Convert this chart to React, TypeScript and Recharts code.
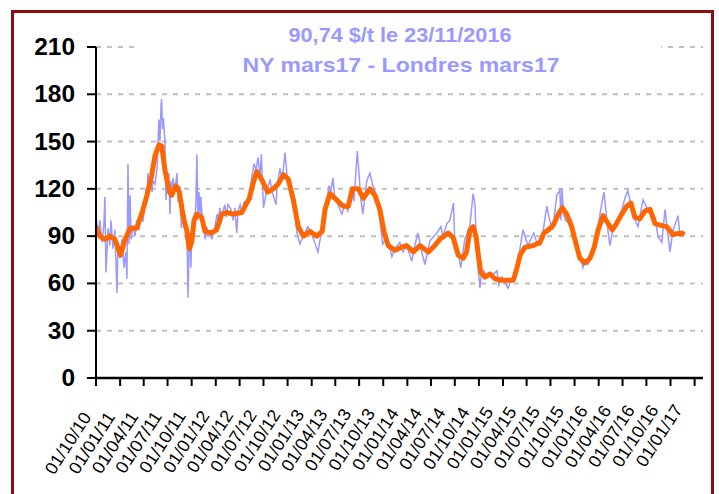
import { ComposedChart, Line, XAxis, YAxis, CartesianGrid } from 'recharts';

const titleLines = ['90,74 $/t le 23/11/2016', 'NY mars17 - Londres mars17'];

const tickLabels = [
  '01/10/10', '01/01/11', '01/04/11', '01/07/11', '01/10/11', '01/01/12', '01/04/12',
  '01/07/12', '01/10/12', '01/01/13', '01/04/13', '01/07/13', '01/10/13', '01/01/14',
  '01/04/14', '01/07/14', '01/10/14', '01/01/15', '01/04/15', '01/07/15', '01/10/15',
  '01/01/16', '01/04/16', '01/07/16', '01/10/16', '01/01/17',
];
const yTicks = [0, 30, 60, 90, 120, 150, 180, 210];
const xDomain = ['2010-10-01', '2017-02-02'];

// daily spread (light blue)
const blueDates = [
  '2010-10-01', '2010-10-09', '2010-10-16', '2010-10-24', '2010-10-31', '2010-11-04', '2010-11-08', '2010-11-16',
  '2010-11-23', '2010-11-27', '2010-12-05', '2010-12-12', '2010-12-20', '2010-12-24', '2010-12-31', '2011-01-08',
  '2011-01-16', '2011-01-23', '2011-01-27', '2011-01-31', '2011-02-04', '2011-02-08', '2011-02-12', '2011-02-19',
  '2011-02-27', '2011-03-06', '2011-03-14', '2011-03-22', '2011-03-29', '2011-04-06', '2011-04-10', '2011-04-14',
  '2011-04-17', '2011-04-21', '2011-04-29', '2011-05-03', '2011-05-06', '2011-05-14', '2011-05-22', '2011-05-25',
  '2011-05-29', '2011-06-02', '2011-06-06', '2011-06-08', '2011-06-12', '2011-06-15', '2011-06-21', '2011-06-25',
  '2011-06-29', '2011-07-03', '2011-07-06', '2011-07-10', '2011-07-14', '2011-07-18', '2011-07-22', '2011-07-29',
  '2011-08-06', '2011-08-10', '2011-08-17', '2011-08-23', '2011-08-29', '2011-09-02', '2011-09-06', '2011-09-09',
  '2011-09-13', '2011-09-17', '2011-09-21', '2011-09-25', '2011-09-28', '2011-10-02', '2011-10-06', '2011-10-13',
  '2011-10-17', '2011-10-21', '2011-10-25', '2011-10-29', '2011-11-02', '2011-11-05', '2011-11-13', '2011-11-17',
  '2011-11-21', '2011-11-28', '2011-12-02', '2011-12-10', '2011-12-17', '2011-12-25', '2011-12-29', '2012-01-06',
  '2012-01-09', '2012-01-17', '2012-01-21', '2012-01-28', '2012-02-05', '2012-02-09', '2012-02-17', '2012-02-28',
  '2012-03-07', '2012-03-14', '2012-03-21', '2012-03-26', '2012-04-03', '2012-04-10', '2012-04-18', '2012-04-25',
  '2012-05-03', '2012-05-07', '2012-05-18', '2012-05-26', '2012-06-03', '2012-06-10', '2012-06-18', '2012-06-23',
  '2012-07-01', '2012-07-11', '2012-07-26', '2012-08-03', '2012-08-18', '2012-08-22', '2012-09-02', '2012-09-10',
  '2012-09-21', '2012-09-29', '2012-10-10', '2012-10-18', '2012-10-29', '2012-11-06', '2012-11-17', '2012-11-25',
  '2012-12-06', '2012-12-17', '2012-12-31', '2013-01-10', '2013-01-25', '2013-02-02', '2013-02-13', '2013-02-28',
  '2013-03-08', '2013-03-15', '2013-03-23', '2013-03-30', '2013-04-11', '2013-04-26', '2013-05-08', '2013-05-19',
  '2013-06-03', '2013-06-11', '2013-06-24', '2013-07-08', '2013-07-15', '2013-07-30', '2013-08-11', '2013-08-22',
  '2013-09-03', '2013-09-14', '2013-09-29', '2013-10-15', '2013-11-03', '2013-11-14', '2013-11-29', '2013-12-03',
  '2013-12-15', '2013-12-30', '2014-01-18', '2014-01-29', '2014-02-10', '2014-02-25', '2014-03-09', '2014-03-28',
  '2014-04-24', '2014-05-09', '2014-05-17', '2014-06-01', '2014-06-12', '2014-06-26', '2014-07-01', '2014-07-17',
  '2014-07-24', '2014-08-08', '2014-08-27', '2014-09-09', '2014-09-16', '2014-09-23', '2014-10-05', '2014-10-11',
  '2014-10-20', '2014-11-01', '2014-11-19', '2014-12-09', '2014-12-16', '2014-12-28', '2015-01-20', '2015-01-31',
  '2015-02-15', '2015-02-26', '2015-03-18', '2015-04-06', '2015-04-17', '2015-04-28', '2015-05-10', '2015-05-22',
  '2015-06-02', '2015-06-17', '2015-06-28', '2015-07-10', '2015-07-25', '2015-08-06', '2015-08-10', '2015-08-14',
  '2015-08-20', '2015-08-27', '2015-09-13', '2015-09-24', '2015-10-10', '2015-10-21', '2015-11-02', '2015-11-09',
  '2015-11-21', '2015-12-06', '2015-12-25', '2016-01-10', '2016-01-21', '2016-02-05', '2016-02-13', '2016-02-24',
  '2016-03-11', '2016-03-22', '2016-04-10', '2016-04-21', '2016-04-29', '2016-05-11', '2016-05-30', '2016-06-18',
  '2016-07-03', '2016-07-14', '2016-08-03', '2016-08-14', '2016-08-29', '2016-09-10', '2016-09-29', '2016-10-11',
  '2016-10-30', '2016-11-06', '2016-11-23',
];
const blueValues = [
  104, 90, 100, 86, 97, 115, 67, 95,
  84, 100, 82, 94, 54, 86, 76, 88,
  70, 80, 63, 136, 85, 116, 88, 97,
  90, 100, 94, 105, 99, 110, 120, 114,
  130, 122, 128, 118, 125, 123, 133, 145,
  164, 150, 172, 177, 158, 165, 150, 113,
  128, 118, 130, 104, 125, 115, 127, 118,
  130, 112, 122, 95, 110, 95, 104, 88,
  96, 51, 80, 92, 70, 95, 85, 100,
  110, 142, 100, 118, 104, 115, 95, 100,
  88, 96, 91, 93, 88, 94, 96, 104,
  100, 108, 98, 106, 110, 102, 110, 107,
  100, 108, 92, 106, 110, 104, 112, 108,
  114, 115, 128, 136, 132, 140, 128, 142,
  108, 117, 126, 118, 110, 122, 133, 125,
  143, 128, 118, 112, 104, 92, 85, 88,
  92, 96, 92, 87, 80, 88, 96, 112,
  122, 118, 127, 115, 110, 104, 110, 106,
  121, 112, 144, 113, 104, 125, 130, 122,
  117, 106, 85, 90, 77, 82, 85, 86,
  80, 84, 74, 84, 92, 80, 72, 87,
  92, 96, 90, 98, 100, 111, 86, 76,
  70, 88, 96, 117, 110, 78, 57, 67,
  68, 64, 65, 68, 59, 64, 57, 62,
  64, 73, 94, 84, 88, 92, 86, 84,
  92, 109, 100, 94, 116, 119, 100, 120,
  104, 100, 98, 92, 84, 78, 70, 74,
  72, 77, 92, 108, 118, 94, 84, 94,
  98, 102, 114, 119, 113, 103, 96, 113,
  108, 106, 102, 90, 86, 107, 80, 94,
  103, 90, 91,
];

// moving average (orange)
const orangeDates = [
  '2010-10-01', '2010-10-16', '2010-11-04', '2010-11-23', '2010-12-12', '2011-01-03', '2011-01-20', '2011-02-08',
  '2011-03-05', '2011-03-24', '2011-04-12', '2011-05-01', '2011-05-14', '2011-05-29', '2011-06-09', '2011-06-21',
  '2011-07-08', '2011-07-17', '2011-08-02', '2011-08-15', '2011-08-30', '2011-09-12', '2011-09-22', '2011-10-01',
  '2011-10-10', '2011-10-20', '2011-11-08', '2011-11-21', '2011-12-16', '2012-01-04', '2012-01-24', '2012-02-12',
  '2012-03-08', '2012-04-09', '2012-05-08', '2012-05-20', '2012-06-05', '2012-06-24', '2012-07-17', '2012-08-07',
  '2012-08-26', '2012-09-15', '2012-10-04', '2012-10-23', '2012-11-11', '2012-11-30', '2012-12-25', '2013-01-20',
  '2013-02-10', '2013-02-21', '2013-03-12', '2013-04-06', '2013-05-01', '2013-05-21', '2013-06-05', '2013-06-28',
  '2013-07-17', '2013-08-11', '2013-08-30', '2013-09-18', '2013-10-05', '2013-10-20', '2013-11-15', '2013-12-10',
  '2013-12-29', '2014-01-24', '2014-02-18', '2014-03-22', '2014-04-10', '2014-05-05', '2014-06-06', '2014-06-25',
  '2014-07-14', '2014-08-02', '2014-08-15', '2014-08-28', '2014-09-09', '2014-09-20', '2014-09-28', '2014-10-08',
  '2014-10-24', '2014-11-12', '2014-12-01', '2014-12-27', '2015-01-21', '2015-02-09', '2015-02-22', '2015-03-07',
  '2015-03-26', '2015-04-26', '2015-05-22', '2015-06-06', '2015-06-23', '2015-07-12', '2015-07-31', '2015-08-15',
  '2015-09-01', '2015-09-20', '2015-10-05', '2015-10-21', '2015-11-10', '2015-11-29', '2015-12-15', '2015-12-30',
  '2016-01-18', '2016-02-06', '2016-02-22', '2016-03-09', '2016-03-29', '2016-04-17', '2016-05-03', '2016-05-18',
  '2016-06-06', '2016-06-26', '2016-07-15', '2016-08-03', '2016-08-22', '2016-09-16', '2016-10-11', '2016-11-12',
  '2016-11-23',
];
const orangeValues = [
  96, 90, 88, 90, 88, 78, 88, 95,
  95, 104, 115, 128, 141, 148, 147, 132,
  118, 116, 122, 118, 102, 94, 82, 86,
  100, 104, 102, 93, 92, 94, 104, 105,
  104, 105, 114, 122, 131, 126, 118, 120,
  123, 129, 126, 113, 96, 90, 93, 90,
  93, 107, 117, 113, 109, 109, 120, 120,
  114, 120, 116, 107, 92, 84, 81, 83,
  84, 80, 84, 80, 83, 88, 92, 89,
  78, 76, 80, 94, 96, 90, 79, 67,
  64, 66, 63, 62, 62, 62, 69, 78,
  83, 84, 86, 92, 94, 97, 104, 108,
  104, 96, 86, 76, 73, 76, 83, 94,
  103, 98, 94, 98, 104, 109, 111, 102,
  101, 106, 107, 98, 97, 96, 91, 92,
  91,
];

const toTime = (d: string) => Date.parse(d);
const labelToTime = (l: string) => {
  const [dd, mm, yy] = l.split('/');
  return Date.parse(`20${yy}-${mm}-${dd}`);
};

const blueData = blueDates.map((d, i) => ({ t: toTime(d), v: blueValues[i] }));
const orangeData = orangeDates.map((d, i) => ({ t: toTime(d), v: orangeValues[i] }));
const xTicks = tickLabels.map(labelToTime);

const FONT = '"Liberation Sans", Arial, sans-serif';

function YTick({ x, y, payload }: any) {
  const s = String(payload.value);
  return (
    <text
      x={x - 10}
      y={y + 8}
      textAnchor="end"
      fontFamily={FONT}
      fontWeight="bold"
      fontSize={23}
      fill="#000"
      textLength={s.length * 13.6}
      lengthAdjust="spacingAndGlyphs"
    >
      {s}
    </text>
  );
}

function XTick({ x, y, index }: any) {
  const label = tickLabels[index] ?? '';
  return (
    <g transform={`translate(${x - 4 - index * 0.3},${y + 31 - index * 0.3})`}>
      <text
        textAnchor="end"
        transform="rotate(-57)"
        fontFamily={FONT}
        fontSize={17.5}
        fill="#000"
        textLength={70}
        lengthAdjust="spacingAndGlyphs"
      >
        {label}
      </text>
    </g>
  );
}

export default function App() {
  return (
    <div style={{ position: 'absolute', left: 0, top: 0, width: 719, height: 494, overflow: 'hidden', background: '#fff' }}>
      <div
        style={{
          position: 'absolute',
          left: 11,
          top: 10,
          width: 703,
          height: 520,
          border: '3px solid #8c0f0f',
          boxSizing: 'border-box',
        }}
      />
      <div style={{ position: 'absolute', left: 0, top: 0 }}>
        <ComposedChart width={719} height={494} margin={{ top: 47, right: 16, bottom: 16, left: 0 }}>
          <CartesianGrid vertical={false} stroke="#bfbfbf" strokeWidth={2} strokeDasharray="5 6" />
          <XAxis
            type="number"
            dataKey="t"
            domain={xDomain.map(toTime)}
            ticks={xTicks}
            interval={0}
            height={100}
            tickSize={8}
            tickMargin={0}
            axisLine={{ stroke: '#000', strokeWidth: 2.5 }}
            tickLine={{ stroke: '#000', strokeWidth: 2 }}
            tick={<XTick />}
            allowDataOverflow
          />
          <YAxis
            type="number"
            domain={[0, 210]}
            ticks={yTicks}
            interval={0}
            width={96}
            tickSize={9}
            tickMargin={2}
            axisLine={{ stroke: '#000', strokeWidth: 2 }}
            tickLine={{ stroke: '#000', strokeWidth: 2 }}
            tick={<YTick />}
          />
          <Line
            data={blueData}
            dataKey="v"
            type="linear"
            stroke="#9999ff"
            strokeWidth={1.5}
            dot={false}
            isAnimationActive={false}
          />
          <Line
            data={orangeData}
            dataKey="v"
            type="linear"
            stroke="#ff6600"
            strokeWidth={5}
            strokeLinejoin="round"
            dot={false}
            isAnimationActive={false}
          />
        </ComposedChart>
      </div>
      <svg width={719} height={494} style={{ position: 'absolute', left: 0, top: 0, pointerEvents: 'none' }}>
        <rect x={138} y={14} width={523} height={68} fill="#fff" />
        <text
          x={400}
          y={42}
          textAnchor="middle"
          fontFamily={FONT}
          fontWeight="bold"
          fontSize={21}
          fill="#9999ff"
          textLength={223}
          lengthAdjust="spacingAndGlyphs"
        >
          {titleLines[0]}
        </text>
        <text
          x={401}
          y={71.5}
          textAnchor="middle"
          fontFamily={FONT}
          fontWeight="bold"
          fontSize={21}
          fill="#9999ff"
          textLength={317}
          lengthAdjust="spacingAndGlyphs"
        >
          {titleLines[1]}
        </text>
      </svg>
    </div>
  );
}
